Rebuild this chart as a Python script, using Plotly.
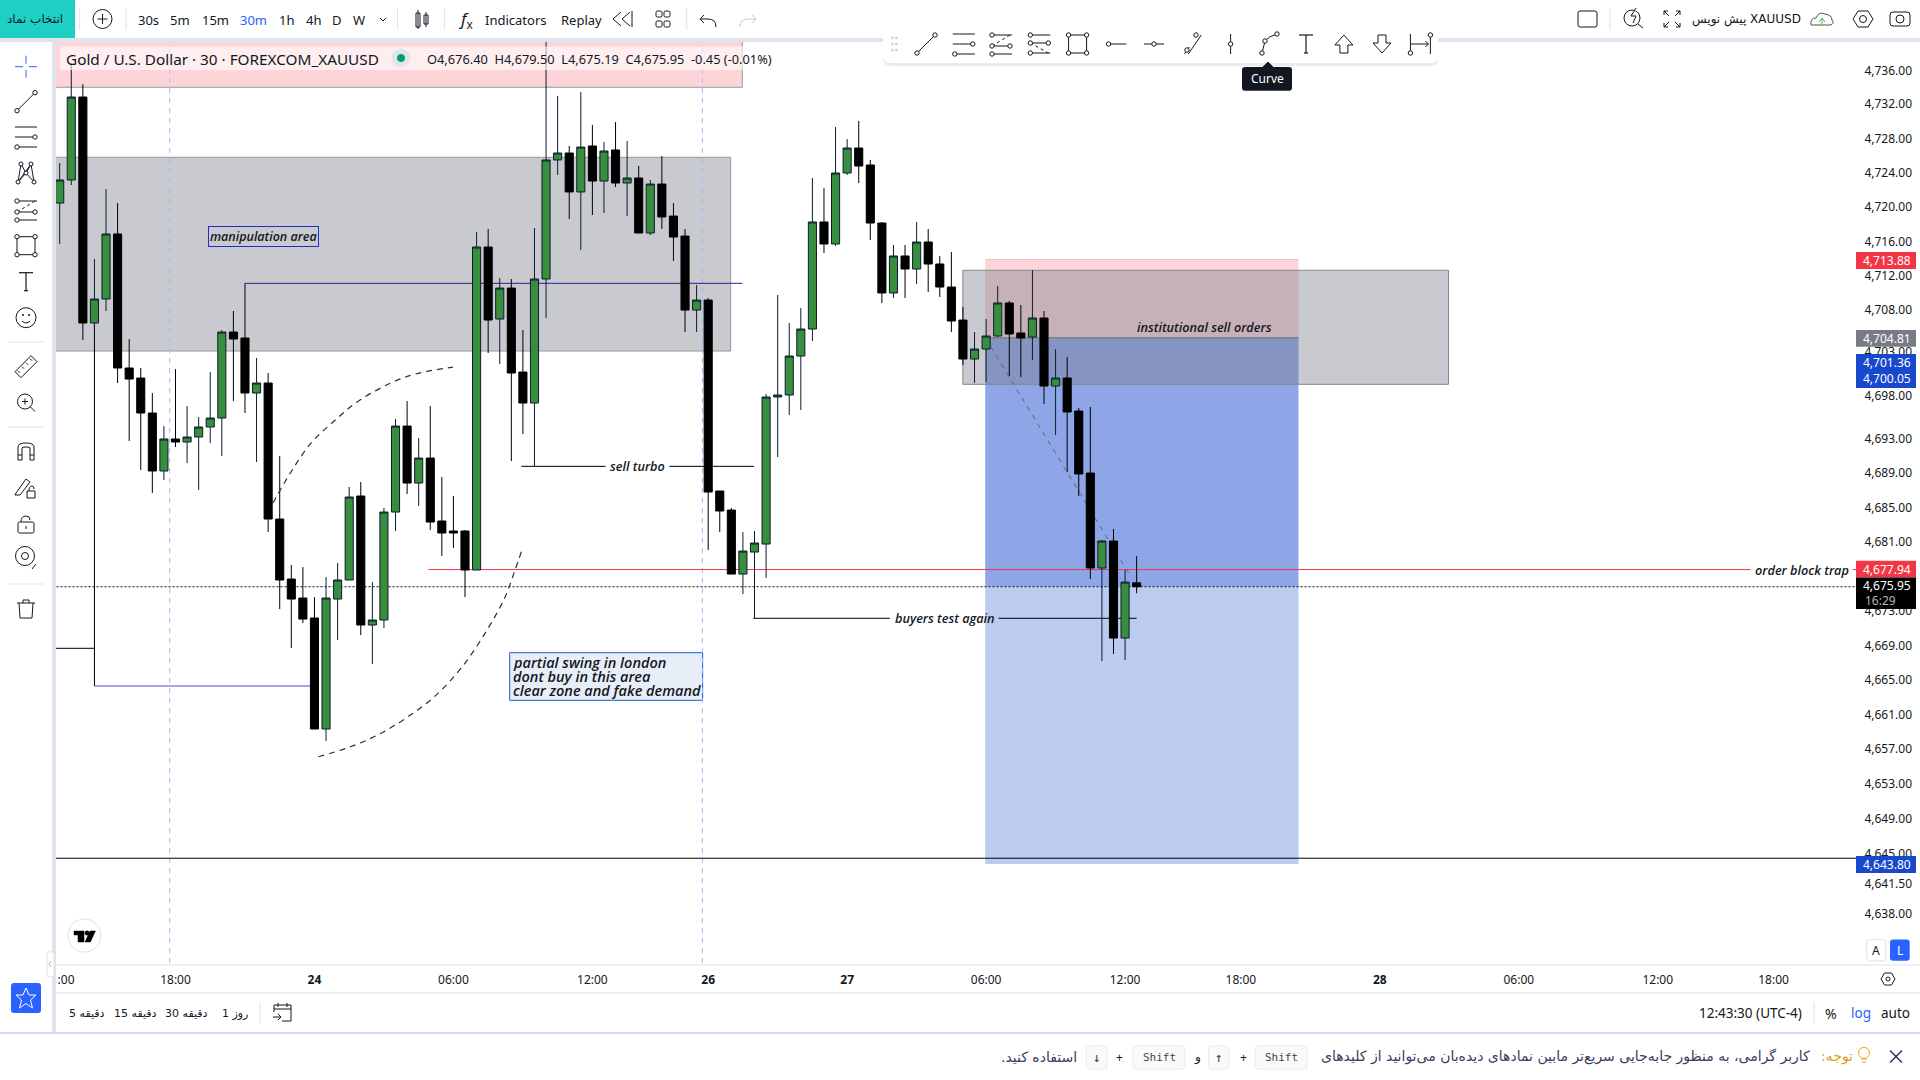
import plotly.graph_objects as go

# ohlc, one entry per 30 minute bar
open_prices = [4720.44, 4723.11, 4732.73, 4706.53, 4709.31, 4716.85, 4701.31, 4700.15, 4696.09, 4689.37,
	4693.08, 4692.73, 4693.31, 4694.47, 4695.51, 4705.48, 4704.79, 4698.41, 4699.57, 4683.80,
	4676.84, 4674.64, 4672.32, 4659.45, 4674.52, 4676.73, 4686.47, 4671.51, 4672.09, 4684.61,
	4694.58, 4687.97, 4690.87, 4683.57, 4682.41, 4682.41, 4677.89, 4715.34, 4706.99, 4710.58,
	4700.84, 4697.25, 4711.63, 4725.43, 4726.24, 4721.72, 4727.05, 4722.99, 4726.59, 4722.76,
	4723.34, 4716.96, 4722.64, 4718.93, 4716.61, 4708.03, 4709.19, 4687.05, 4684.84, 4677.42,
	4679.97, 4680.90, 4697.95, 4698.18, 4702.70, 4705.83, 4718.24, 4715.69, 4723.92, 4726.82,
	4724.85, 4718.12, 4710.01, 4714.30, 4712.79, 4715.92, 4713.37, 4710.70, 4706.87, 4702.35,
	4703.51, 4705.02, 4708.85, 4705.37, 4704.90, 4707.11, 4699.22, 4700.15, 4696.32, 4689.13,
	4678.12, 4681.25, 4670.00, 4676.40]
high_prices = [4725.08, 4736.67, 4734.24, 4713.95, 4722.06, 4720.44, 4704.67, 4701.31, 4698.41, 4694.58,
	4701.19, 4696.90, 4695.63, 4700.84, 4705.71, 4707.92, 4704.79, 4702.47, 4700.73, 4691.10,
	4678.47, 4678.23, 4674.75, 4677.07, 4678.70, 4687.51, 4688.09, 4676.49, 4685.08, 4695.40,
	4697.48, 4693.19, 4696.90, 4688.67, 4686.47, 4682.52, 4717.08, 4717.43, 4711.74, 4711.63,
	4705.71, 4717.54, 4739.50, 4732.85, 4727.05, 4733.31, 4729.49, 4727.51, 4729.83, 4727.63,
	4724.73, 4723.11, 4725.89, 4720.44, 4717.43, 4710.93, 4709.43, 4687.05, 4685.08, 4682.29,
	4682.41, 4698.29, 4709.77, 4706.53, 4708.27, 4723.34, 4722.18, 4729.25, 4727.86, 4729.95,
	4725.43, 4718.24, 4715.57, 4715.57, 4718.24, 4717.43, 4714.30, 4714.76, 4708.38, 4705.48,
	4706.99, 4710.82, 4709.08, 4708.61, 4712.67, 4707.92, 4703.51, 4702.58, 4696.67, 4696.79,
	4681.36, 4682.64, 4677.89, 4679.50]
low_prices = [4715.69, 4722.53, 4704.56, 4705.71, 4707.92, 4699.57, 4692.84, 4689.48, 4686.81, 4688.32,
	4692.15, 4690.29, 4687.16, 4692.61, 4691.10, 4697.48, 4696.09, 4690.41, 4682.29, 4673.36,
	4668.84, 4671.74, 4659.45, 4658.06, 4669.77, 4676.73, 4670.35, 4666.99, 4671.16, 4682.41,
	4686.70, 4685.31, 4682.52, 4679.51, 4680.44, 4674.75, 4677.89, 4703.05, 4701.77, 4690.52,
	4693.66, 4689.95, 4707.11, 4723.69, 4718.59, 4714.99, 4719.05, 4719.28, 4722.30, 4718.93,
	4716.96, 4716.73, 4717.43, 4713.72, 4705.48, 4705.48, 4680.20, 4682.29, 4677.42, 4675.10,
	4672.32, 4676.96, 4690.99, 4695.86, 4696.44, 4704.44, 4714.64, 4715.46, 4723.69, 4722.76,
	4716.15, 4708.85, 4709.43, 4709.43, 4711.05, 4710.12, 4709.54, 4705.48, 4701.66, 4699.57,
	4699.69, 4704.90, 4700.38, 4700.27, 4702.24, 4697.13, 4693.54, 4689.25, 4686.47, 4676.84,
	4667.33, 4668.15, 4667.45, 4675.19]
close_prices = [4723.11, 4732.73, 4706.53, 4709.31, 4716.85, 4701.31, 4700.03, 4696.09, 4689.37, 4693.08,
	4692.73, 4693.31, 4694.47, 4695.51, 4705.48, 4704.67, 4698.41, 4699.57, 4683.80, 4676.73,
	4674.52, 4672.20, 4659.45, 4674.64, 4676.73, 4686.35, 4671.51, 4672.09, 4684.61, 4694.58,
	4687.97, 4690.87, 4683.45, 4682.18, 4682.18, 4677.89, 4715.34, 4706.87, 4710.58, 4700.73,
	4697.25, 4711.63, 4725.43, 4726.24, 4721.72, 4726.93, 4722.99, 4726.47, 4722.76, 4723.34,
	4716.96, 4722.64, 4718.82, 4716.50, 4708.03, 4709.19, 4686.93, 4684.73, 4677.42, 4680.09,
	4681.02, 4697.95, 4698.18, 4702.70, 4705.83, 4718.24, 4715.69, 4723.92, 4726.82, 4724.73,
	4718.12, 4710.01, 4714.30, 4712.79, 4715.92, 4713.37, 4710.70, 4706.76, 4702.35, 4703.51,
	4705.02, 4708.85, 4705.25, 4704.79, 4707.11, 4699.22, 4700.15, 4696.21, 4689.02, 4678.12,
	4681.25, 4670.00, 4676.49, 4675.95]
bar_index = list(range(len(open_prices)))

# the price scale is log in the original so labels sit a little off their printed value
price_ticks = [4735.79, 4731.89, 4727.93, 4723.98, 4720.02, 4715.99, 4712.03, 4708.08, 4703.16, 4698.14, 4693.15,
	4689.19, 4685.12, 4681.19, 4673.13, 4669.14, 4665.19, 4661.12, 4657.21, 4653.13, 4649.06, 4645.02, 4641.56, 4638.05]
price_labels = ["4,736.00", "4,732.00", "4,728.00", "4,724.00", "4,720.00", "4,716.00", "4,712.00", "4,708.00", "4,703.00",
	"4,698.00", "4,693.00", "4,689.00", "4,685.00", "4,681.00", "4,673.00", "4,669.00", "4,665.00", "4,661.00",
	"4,657.00", "4,653.00", "4,649.00", "4,645.00", "4,641.50", "4,638.00"]
time_ticks = [0.55, 10, 22, 34, 46, 56, 68, 80, 92, 102, 114, 126, 138, 148]
time_labels = [":00", "18:00", "<b>24</b>", "06:00", "12:00", "<b>26</b>", "<b>27</b>", "06:00", "12:00", "18:00",
	"<b>28</b>", "06:00", "12:00", "18:00"]

# drawings on the chart: bar positions and prices
curve_up_x = [18.42, 19.97, 21.70, 23.51, 25.93, 29.87, 33.96]
curve_up_y = [4685.66, 4689.25, 4692.61, 4694.93, 4697.60, 4700.27, 4701.42]
curve_down_x = [39.87, 39.32, 38.46, 36.90, 34.74, 32.32, 29.90, 27.45, 24.81, 21.94]
curve_down_y = [4680.01, 4677.89, 4674.75, 4670.93, 4666.64, 4663.16, 4660.72, 4658.75, 4657.25, 4656.09]
swing_lines = ["partial swing in london", "dont buy in this area", "clear zone and fake demand"]
swing_line_prices = [4667.14, 4665.51, 4663.89]
stop_price = 4713.88
entry_price = 4704.81
target_price = 4643.80
last_price = 4675.95
trap_price = 4677.94
support_price = 4644.47
sell_turbo_price = 4689.91
buyers_price = 4672.29

INK = "#131722"
UI = "Noto Sans"
NOTE = "Open Sans"
GREEN = "#388e3c"
GRAY_ZONE = "rgba(120,123,134,0.4)"
STRIP = "#e0e3eb"

shapes = []
annots = []


def data_rect(x0, x1, y0, y1, fill, edge=None):
	shapes.append(dict(type="rect", xref="x", yref="y", x0=x0, x1=x1, y0=y0, y1=y1, fillcolor=fill, layer="below",
		line=dict(color=edge or "rgba(0,0,0,0)", width=1)))


def data_line(x0, y0, x1, y1, color="#000000", width=1, dash="solid"):
	shapes.append(dict(type="line", xref="x", yref="y", x0=x0, x1=x1, y0=y0, y1=y1, layer="below",
		line=dict(color=color, width=width, dash=dash)))


def note(x, y, text, size=12.7, **kw):
	annots.append(dict(xref="x", yref="y", x=x, y=y, text="<i>" + text + "</i>", showarrow=False,
		font=dict(family=NOTE, size=size, color="#131722", weight=600), **kw))


# everything below is the app around the chart, laid out in screen pixels on x2/y2
def box(x0, y0, x1, y1, fill=None, edge=None, w=1, r=0):
	base = dict(xref="x2", yref="y2", layer="above", fillcolor=fill or "rgba(0,0,0,0)",
		line=dict(color=edge or "rgba(0,0,0,0)", width=w))
	if r:
		d = (f"M{x0+r},{y0} L{x1-r},{y0} Q{x1},{y0} {x1},{y0+r} L{x1},{y1-r} Q{x1},{y1} {x1-r},{y1} "
			f"L{x0+r},{y1} Q{x0},{y1} {x0},{y1-r} L{x0},{y0+r} Q{x0},{y0} {x0+r},{y0} Z")
		shapes.append(dict(type="path", path=d, **base))
	else:
		shapes.append(dict(type="rect", x0=x0, y0=y0, x1=x1, y1=y1, **base))


def path(d, color=INK, w=1, fill=None, dash="solid"):
	shapes.append(dict(type="path", path=d, xref="x2", yref="y2", layer="above", fillcolor=fill or "rgba(0,0,0,0)",
		line=dict(color=color, width=w, dash=dash)))


def poly(cx, cy, pts, color=INK, w=1, close=False, fill=None, dash="solid"):
	d = " ".join(("M" if i == 0 else "L") + f"{cx+p[0]},{cy+p[1]}" for i, p in enumerate(pts))
	path(d + (" Z" if close else ""), color, w, fill, dash)


def circ(cx, cy, r, edge=INK, fill=None, w=1):
	shapes.append(dict(type="circle", xref="x2", yref="y2", layer="above", x0=cx-r, x1=cx+r, y0=cy-r, y1=cy+r,
		fillcolor=fill or "rgba(0,0,0,0)", line=dict(color=edge, width=w)))


def txt(x, y, s, size=13, color=INK, anchor="center", family=UI):
	annots.append(dict(xref="x2", yref="y2", x=x, y=y, text=s, showarrow=False, xanchor=anchor, yanchor="middle",
		borderpad=0, font=dict(family=family, size=size, color=color)))


def dot(cx, cy, r=2.2):
	circ(cx, cy, r, INK, "#ffffff")


def ic_trend(cx, cy):
	poly(cx, cy, [(-9, 9), (9, -9)])
	dot(cx-9, cy+9)
	dot(cx+9, cy-9)


def ic_lines(cx, cy):
	poly(cx, cy, [(-11, -10), (11, -10)])
	poly(cx, cy, [(-11, 0), (7, 0)])
	poly(cx, cy, [(-7, 10), (11, 10)])
	dot(cx+9, cy)
	dot(cx-9, cy+10)


def ic_fib(cx, cy):
	poly(cx, cy, [(-7, -9), (11, -9)])
	poly(cx, cy, [(-7, 2), (7, 2)])
	poly(cx, cy, [(-7, 10), (11, 10)])
	poly(cx, cy, [(-9, 2), (9, -9)], dash="dot")
	dot(cx-9, cy-9)
	dot(cx+9, cy+2)
	dot(cx-9, cy+2)
	dot(cx-9, cy+10)


def ic_fib2(cx, cy):
	poly(cx, cy, [(-7, -9), (11, -9)])
	poly(cx, cy, [(-7, -1), (7, -1)])
	poly(cx, cy, [(-7, 9), (11, 9)])
	poly(cx, cy, [(-9, -1), (9, 9)], dash="dot")
	dot(cx-9, cy-9)
	dot(cx+9, cy-1)
	dot(cx-9, cy-1)
	dot(cx-9, cy+9)


def ic_rect(cx, cy):
	box(cx-9, cy-9, cx+9, cy+9, edge=INK)
	for sx, sy in [(-9, -9), (9, -9), (-9, 9), (9, 9)]:
		dot(cx+sx, cy+sy)


def ic_t(cx, cy):
	poly(cx, cy, [(-7, -9), (7, -9)], w=1.2)
	poly(cx, cy, [(0, -9), (0, 9)], w=1.2)
	poly(cx, cy, [(-2, 9), (2, 9)], w=1.2)


def draw_topbar():
	box(0, 0, 75, 38, fill="#1ecfc6")
	txt(35, 19, "انتخاب نماد", 12, family="DejaVu Sans")
	circ(102.5, 19, 9.5)
	poly(102.5, 19, [(-5, 0), (5, 0)])
	poly(102.5, 19, [(0, -5), (0, 5)])
	for x in [79.6, 126, 397.4, 444.4, 686.7]:
		poly(x, 0, [(0, 8), (0, 30)], color=STRIP)
	for x, s, c in [(148.5, "30s", INK), (180, "5m", INK), (215, "15m", INK), (253, "30m", "#2962ff"), (286, "1h", INK),
		(313, "4h", INK), (336.7, "D", INK), (359, "W", INK)]:
		txt(x, 19.5, s, 13, c)
	poly(383, 19, [(-3, -1), (0, 2), (3, -1)])
	box(416, 13, 420, 27, edge=INK)
	poly(418, 0, [(0, 10), (0, 29)])
	box(424, 15, 428, 24, edge=INK)
	poly(426, 0, [(0, 12), (0, 27)])
	txt(466, 19, "<i>f</i><sub>x</sub>", 17)
	txt(515, 19.5, "Indicators", 13)
	txt(581.6, 19.5, "Replay", 13)
	poly(622, 19, [(-1, -7), (-9, 0), (-1, 7)])
	poly(622, 19, [(8, -7), (0, 0), (8, 7)])
	poly(622, 19, [(10, -8), (10, 8)])
	for sx, sy in [(-7, -8), (1, -8), (-7, 2), (1, 2)]:
		box(663+sx, 19+sy, 669+sx, 25+sy, edge=INK, r=1.5)
	path("M704,15 L700,19 L704,23 M700,19 L708,19 Q716,19 716,27")
	path("M752,15 L756,19 L752,23 M756,19 L748,19 Q740,19 740,27", color="#c4c7d0")
	# right side
	box(1578, 11, 1597, 27, edge=INK, r=2)
	poly(1610, 0, [(0, 8), (0, 30)], color=STRIP)
	circ(1632, 18, 8)
	poly(1632, 18, [(6, 6), (11, 10)])
	poly(1634, 15, [(2, -7), (-3, 1), (2, 1), (-1, 8)], fill="#ffffff")
	for sx, sy in [(-1, -1), (1, -1), (-1, 1), (1, 1)]:
		poly(1672, 19, [(sx*3, sy*3), (sx*8, sy*8)])
		poly(1672, 19, [(sx*4, sy*8), (sx*8, sy*8), (sx*8, sy*4)])
	txt(1802, 19.5, "پیش نویس XAUUSD", 12, anchor="right", family="DejaVu Sans")
	path("M1811,25 Q1810,18 1816,18 Q1819,11 1825,14 Q1832,15 1832,20 Q1835,24 1830,25 Z", color="#555555")
	poly(1822, 20, [(-3, 2), (0, -2), (3, 2)], color="#4caf50")
	poly(1822, 20, [(0, -2), (0, 5)], color="#4caf50")
	poly(1863, 19, [(-10, 0), (-5, -8), (5, -8), (10, 0), (5, 8), (-5, 8)], close=True)
	circ(1863, 19, 3.5)
	box(1890, 12, 1910, 26, edge=INK, r=3)
	circ(1900, 19, 4)


def draw_float_bar():
	# soft shadow first, then the white bar
	box(883, 28, 1438, 66, fill="rgba(0,0,0,0.08)", r=7)
	box(883, 25, 1438, 63, fill="#ffffff", r=7)
	for dx in [-2, 2]:
		for dy in [-6, 0, 6]:
			circ(894.5+dx, 44+dy, 1, "#d1d4dc", "#d1d4dc")
	y = 44
	ic_trend(926, y)
	ic_lines(963.8, y)
	ic_fib(1001, y)
	ic_fib2(1039.3, y)
	ic_rect(1077.6, y)
	poly(1116.3, y, [(-8, 0), (10, 0)])
	dot(1108.6, y)
	poly(1154, y, [(-10, 0), (10, 0)])
	dot(1154, y)
	poly(1192.3, y, [(-8, 10), (-3, 3)])
	poly(1192.3, y, [(-4, 10), (9, -9)])
	dot(1187, y+6)
	dot(1196, y-9)
	poly(1230.6, y, [(0, -10), (0, 10)])
	dot(1230.6, y)
	path(f"M1262,{y+9} L1265,{y-3} Q1269,{y-8} 1277,{y-10}")
	dot(1262, y+9)
	dot(1265, y-3)
	dot(1277, y-10)
	ic_t(1306, y)
	poly(1343.9, y, [(0, -9), (9, 1), (4, 1), (4, 9), (-4, 9), (-4, 1), (-9, 1)], close=True)
	poly(1382, y, [(0, 9), (9, -1), (4, -1), (4, -9), (-4, -9), (-4, -1), (-9, -1)], close=True)
	poly(1420.4, y, [(-10, -10), (-10, 10)])
	poly(1420.4, y, [(10, -10), (10, 10)])
	poly(1420.4, y, [(-10, 0), (8, 0)])
	poly(1420.4, y, [(5, -3), (8, 0), (5, 3)])
	dot(1410.4, y+9)
	dot(1430.4, y-9)
	# tooltip
	poly(1267.9, 0, [(-5, 67), (0, 62), (5, 67)], close=True, fill="#131722", color="#131722")
	box(1242, 67, 1292, 90.7, fill="#131722", r=3)
	txt(1267, 78.5, "Curve", 12, "#ffffff")


def draw_sidebar():
	x = 26
	poly(x, 66.7, [(-11, 0), (-3, 0)], color="#2962ff")
	poly(x, 66.7, [(3, 0), (11, 0)], color="#2962ff")
	poly(x, 66.7, [(0, -11), (0, -3)], color="#2962ff")
	poly(x, 66.7, [(0, 3), (0, 11)], color="#2962ff")
	ic_trend(x, 101.7)
	ic_lines(x, 137)
	poly(x, 173, [(-8, 9), (-5, -9), (0, 0), (5, -9), (8, 9), (0, 0), (-8, 9), (5, -9)])
	for sx, sy in [(-8, 9), (-5, -9), (5, -9), (8, 9), (0, 0)]:
		dot(x+sx, 173+sy, 2)
	ic_fib(x, 210)
	ic_rect(x, 245.7)
	ic_t(x, 281.7)
	circ(x, 317.7, 10)
	circ(x-3, 315, 0.6, INK, INK)
	circ(x+3, 315, 0.6, INK, INK)
	path(f"M{x-4},321 Q{x},325 {x+4},321")
	poly(x, 342, [(-18, 0), (18, 0)], color=STRIP)
	poly(x, 366.7, [(-11, 5), (5, -11), (11, -5), (-5, 11)], close=True)
	for k in [-6, -2, 2, 6]:
		poly(x+k, 366.7-k, [(-2, -2), (0, 0)])
	circ(x-1, 401.5, 7.5)
	poly(x-1, 401.5, [(5, 5), (10, 10)])
	poly(x-1, 401.5, [(-3, 0), (3, 0)])
	poly(x-1, 401.5, [(0, -3), (0, 3)])
	poly(x, 427, [(-18, 0), (18, 0)], color=STRIP)
	path(f"M{x-8},460 L{x-8},447 Q{x-8},443 {x},443 Q{x+8},443 {x+8},447 L{x+8},460 L{x+4},460 L{x+4},448 Q{x+4},447 {x},447 Q{x-4},447 {x-4},448 L{x-4},460 Z")
	poly(x, 0, [(-8, 455), (-4, 455)])
	poly(x, 0, [(4, 455), (8, 455)])
	poly(x-3, 486, [(-7, 7), (3, -7), (7, -4), (-3, 9), (-8, 9)], close=True)
	box(x+1, 491, x+9, 498, edge=INK)
	path(f"M{x+3},491 Q{x+3},486 {x+6},486 Q{x+8},486 {x+8},489")
	box(x-8, 522, x+8, 533, edge=INK, r=1.5)
	path(f"M{x-5},522 Q{x-5},516 {x},516 Q{x+4},516 {x+4},520")
	poly(x, 0, [(0, 526), (0, 529)])
	circ(x-1, 556, 9.5)
	circ(x-1, 556, 3.5)
	poly(x, 0, [(6, 569), (10, 564)])
	poly(x, 0, [(-18, 584), (18, 584)], color=STRIP)
	poly(x, 0, [(-9, 603), (9, 603)])
	poly(x, 0, [(-7, 603), (-6, 618), (6, 618), (7, 603)])
	poly(x, 0, [(-3, 603), (-3, 600), (3, 600), (3, 603)])
	box(11, 983, 41, 1013, fill="#2962ff", r=3)
	poly(26, 998, [(0, -10), (3, -3), (10, -3), (4.5, 2), (6.5, 10), (0, 5.5), (-6.5, 10), (-4.5, 2), (-10, -3), (-3, -3)],
		close=True, color="#ffffff")


def draw_price_badges():
	box(1856, 252, 1916, 269, fill="#f23645")
	txt(1887, 260, "4,713.88", 12, "#ffffff")
	box(1856, 329.9, 1916, 346.8, fill="#787b86")
	txt(1887, 338, "4,704.81", 12, "#ffffff")
	box(1856, 354, 1916, 388, fill="#1848cc")
	txt(1887, 362, "4,701.36", 12, "#ffffff")
	txt(1887, 378.6, "4,700.05", 12, "#ffffff")
	box(1856, 560.7, 1916, 577.5, fill="#f23645")
	txt(1887, 569, "4,677.94", 12, "#ffffff")
	box(1856, 577.5, 1916, 608.9, fill="#000000")
	txt(1887, 585.5, "4,675.95", 12, "#ffffff")
	txt(1864, 600, "16:29", 12, "#b2b5be", anchor="left")
	box(1856, 856, 1916, 873, fill="#1848cc")
	txt(1887, 864, "4,643.80", 12, "#ffffff")


def draw_bottom():
	poly(0, 965, [(56, 0), (1920, 0)], color=STRIP)
	poly(0, 993, [(56, 0), (1920, 0)], color=STRIP)
	box(0, 1032, 1920, 1034, fill="#d1d9fb")
	box(52, 42, 56, 1032, fill=STRIP)
	box(0, 38, 1920, 42, fill=STRIP)
	# tradingview badge
	circ(84.5, 935.5, 16.5, STRIP, "#ffffff")
	path("M74,931 L84,931 L84,942 L78,942 L78,935 L74,935 Z", fill="#000000", color="#000000", w=0.5)
	circ(87, 933, 2, "#000000", "#000000")
	path("M95.4,931 L90.4,942 L85,942 L90,931 Z", fill="#000000", color="#000000", w=0.5)
	box(47, 951.7, 54, 977, fill="#ffffff", edge=STRIP, r=3)
	poly(50, 964, [(1, -3), (-1, 0), (1, 3)], color="#b2b5be")
	# A / L buttons
	box(1866.7, 939.5, 1885.7, 960.8, fill="#ffffff", edge=STRIP, r=3)
	txt(1876, 950, "A", 12)
	box(1890, 939.5, 1909.7, 960.8, fill="#2962ff", r=3)
	txt(1900, 950, "L", 12, "#ffffff")
	poly(1888, 979, [(-7, 0), (-3.5, -6), (3.5, -6), (7, 0), (3.5, 6), (-3.5, 6)], close=True)
	circ(1888, 979, 2)
	# timeframes row
	for x, s in [(86.5, "5 دقیقه"), (135, "15 دقیقه"), (186.5, "30 دقیقه"), (234.5, "1 روز")]:
		txt(x, 1013, s, 11, family="DejaVu Sans")
	poly(260, 0, [(0, 1002), (0, 1024)], color=STRIP)
	box(274, 1005, 291, 1021, edge=INK)
	poly(0, 0, [(274, 1009), (291, 1009)])
	poly(0, 0, [(278, 1003), (278, 1007)])
	poly(0, 0, [(287, 1003), (287, 1007)])
	box(272, 1012, 282, 1022, fill="#ffffff")
	poly(0, 0, [(273, 1017), (281, 1017)])
	poly(0, 0, [(278, 1014), (281, 1017), (278, 1020)])
	txt(1750.7, 1013, "12:43:30 (UTC-4)", 13.5)
	poly(1814, 0, [(0, 1002), (0, 1024)], color=STRIP)
	txt(1831.4, 1013, "%", 14)
	txt(1860.7, 1013, "log", 13.5, "#2962ff")
	txt(1895.7, 1013, "auto", 13.5)
	# notice strip
	poly(1896, 1056.5, [(-6, -6), (6, 6)], w=1.4, color="#2a2e5c")
	poly(1896, 1056.5, [(-6, 6), (6, -6)], w=1.4, color="#2a2e5c")
	circ(1864, 1053, 5.5, "#e8a317")
	poly(1864, 0, [(-3, 1059), (3, 1059)], color="#e8a317")
	poly(1864, 0, [(-2, 1062), (2, 1062)], color="#e8a317")
	txt(1854, 1056.7, "\u200fتوجه:\u200f", 14, "#e39a16", anchor="right", family="DejaVu Sans")
	txt(1811, 1056.7, "\u200fکاربر گرامی، به منظور جابه‌جایی سریع‌تر مابین نمادهای دیده‌بان می‌توانید از کلیدهای\u200f", 14, "#3a3d5c",
		anchor="right", family="DejaVu Sans")
	for x0, x1, s, fs in [(1255, 1307, "Shift", 11), (1208.6, 1229, "↑", 13), (1133, 1185, "Shift", 11), (1086.4, 1107, "↓", 13)]:
		box(x0, 1046, x1, 1069, fill="#fafafa", edge="#ebebef", r=3)
		txt((x0+x1)/2, 1057, s, fs, "#444444", family="DejaVu Sans Mono")
	txt(1243, 1057, "+", 12)
	txt(1197, 1057, "و", 12, family="DejaVu Sans")
	txt(1119, 1057, "+", 12)
	txt(1077.5, 1056.7, "\u200fاستفاده کنید.\u200f", 14, "#3a3d5c", anchor="right", family="DejaVu Sans")


def draw_chart_objects():
	# zones first so that they stay underneath the later lines
	data_rect(-2, 57.94, 4703.28, 4725.74, GRAY_ZONE, "#999999")
	data_rect(-2, 58.95, 4733.86, 4745, "#fdd5d9", "#999999")
	data_rect(79.92, 106.98, entry_price, stop_price, "#fcd5d9")
	data_line(79.92, stop_price, 106.98, stop_price, "#f7b7bd")
	data_rect(79.92, 106.98, last_price, entry_price, "#8ea6e7")
	data_rect(79.92, 106.98, target_price, last_price, "#bccbf0")
	data_line(79.92, entry_price, 106.98, entry_price, "#666666")
	data_rect(77.99, 119.93, 4699.42, 4712.64, GRAY_ZONE, "#888888")
	data_rect(38.86, 55.52, 4662.78, 4668.30, "#e8eef8", "#1f5bd0")
	for x in [9.5, 55.5]:
		data_line(x, 4630, x, 4745, "#9cbcf2", 1, "5px,5px")
	# horizontal levels
	data_line(16, 4711.13, 58.95, 4711.13, "#3a1a8c")
	data_line(16, 4711.13, 16, 4704.79, "#000000")
	data_line(-2, 4668.81, 3, 4668.81, "#000000")
	data_line(3, 4706.53, 3, 4664.44, "#000000")
	data_line(3, 4664.44, 21.7, 4664.44, "#6b3fc9", 1.2)
	data_line(39.87, sell_turbo_price, 47.14, sell_turbo_price, "#000000")
	data_line(52.65, sell_turbo_price, 59.96, sell_turbo_price, "#000000")
	data_line(59.9, buyers_price, 71.68, buyers_price, "#000000")
	data_line(81.07, buyers_price, 93, buyers_price, "#000000")
	data_line(31.85, trap_price, 146.03, trap_price, "#f23645")
	data_line(154.83, trap_price, 156, trap_price, "#f23645")
	data_line(-2, last_price, 156, last_price, "#000000", 1, "2px,2px")
	data_line(-2, support_price, 156, support_price, "#000000", 1)
	data_line(80.4, 4703.78, 92.5, 4677.11, "#666666", 1, "5px,5px")
	note(17.64, 4716.61, "manipulation area", 12.5, bordercolor="#1a2fc8", borderwidth=1, borderpad=1)
	note(49.92, sell_turbo_price, "sell turbo")
	note(76.45, buyers_price, "buyers test again")
	note(98.9, 4706.10, "institutional sell orders")
	note(150.46, trap_price, "order block trap")
	for line_text, line_price in zip(swing_lines, swing_line_prices):
		note(39.03, line_price, line_text, 14.5, xanchor="left", borderpad=0)


def draw_legend():
	box(60, 46.5, 774, 70, fill="rgba(255,255,255,0.6)")
	txt(64.8, 58.7, "Gold / U.S. Dollar · 30 · FOREXCOM_XAUUSD", 15.3, anchor="left")
	circ(401, 58, 9, "#dfe8e6", "#dfe8e6")
	circ(401, 58, 3.6, "#089981", "#089981")
	txt(426, 58.7, "O4,676.40  H4,679.50  L4,675.19  C4,675.95  -0.45 (-0.01%)", 12.8, anchor="left")


def main():
	draw_chart_objects()
	draw_legend()
	draw_topbar()
	draw_sidebar()
	draw_bottom()
	draw_price_badges()
	draw_float_bar()

	fig = go.Figure()
	fig.add_trace(go.Candlestick(x=bar_index, open=open_prices, high=high_prices, low=low_prices, close=close_prices,
		increasing=dict(fillcolor=GREEN, line=dict(color="#0c1c30", width=1)),
		decreasing=dict(fillcolor="#000000", line=dict(color="#000000", width=1)),
		hoverinfo="skip", showlegend=False))
	for cx, cy in [(curve_up_x, curve_up_y), (curve_down_x, curve_down_y)]:
		fig.add_trace(go.Scatter(x=cx, y=cy, mode="lines", hoverinfo="skip", showlegend=False,
			line=dict(color="#2a2e39", width=1.2, dash="6px,5px", shape="spline")))
	# only here so x2/y2 exist for the app layer
	fig.add_trace(go.Scatter(x=[0], y=[0], xaxis="x2", yaxis="y2", mode="markers", marker=dict(opacity=0),
		hoverinfo="skip", showlegend=False))

	fig.update_layout(width=1920, height=1080, margin=dict(l=0, r=0, t=0, b=0, pad=0), autosize=False,
		paper_bgcolor="#ffffff", plot_bgcolor="rgba(0,0,0,0)", hovermode=False, boxgap=0.3, boxgroupgap=0, showlegend=False,
		font=dict(family=UI, size=12, color=INK), shapes=shapes, annotations=annots,
		xaxis=dict(domain=[56/1920, 1856/1920], range=[-0.3195, 155.12], anchor="y", showgrid=False, zeroline=False,
			rangeslider=dict(visible=False), tickmode="array", tickvals=time_ticks, ticktext=time_labels,
			ticks="outside", ticklen=4, tickcolor="#ffffff", showline=False, tickfont=dict(size=12)),
		yaxis=dict(domain=[115/1080, 1038/1080], range=[4632.09, 4739.11], anchor="x", side="right", showgrid=False,
			zeroline=False, tickmode="array", tickvals=price_ticks, ticktext=price_labels, ticks="outside", ticklen=5,
			tickcolor="#ffffff", showline=False, tickfont=dict(size=12)),
		xaxis2=dict(domain=[0, 1], range=[0, 1920], anchor="y2", visible=False),
		yaxis2=dict(domain=[0, 1], range=[1080, 0], anchor="x2", visible=False))
	fig.write_html("out.html", config=dict(displayModeBar=False),
		post_script="document.body.style.margin='0';document.body.style.overflow='hidden';")


if __name__ == '__main__':
	main()
